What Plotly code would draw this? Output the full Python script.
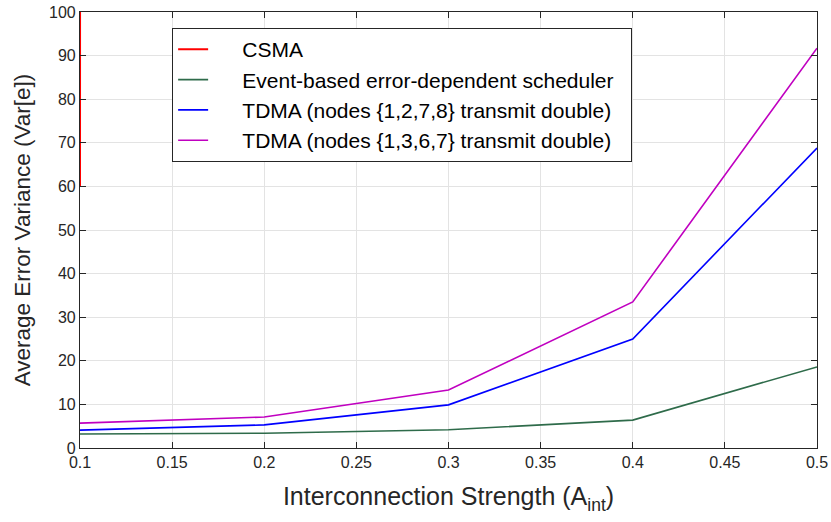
import plotly.graph_objects as go

x_vals = [0.1, 0.2, 0.3, 0.4, 0.5]
csma = [60.0, 52000.0, 140000.0, 310000.0, 650000.0]
event_based = [3.2, 3.4, 4.2, 6.4, 18.6]
tdma_1278 = [4.1, 5.3, 9.9, 25.0, 68.8]
tdma_1367 = [5.7, 7.1, 13.3, 33.5, 91.7]

series = [
    ("CSMA", csma, "#ff0000"),
    ("Event-based error-dependent scheduler", event_based, "#2e6b4a"),
    ("TDMA (nodes {1,2,7,8} transmit double)", tdma_1278, "#0000ff"),
    ("TDMA (nodes {1,3,6,7} transmit double)", tdma_1367, "#c000c0"),
]

NB = "\u00a0"
fig = go.Figure()
for name, vals, col in series:
    fig.add_trace(go.Scatter(x=x_vals, y=vals, mode="lines",
                             name=NB * 5 + name + NB * 2,
                             line=dict(color=col, width=2 if name == "CSMA" else 1.6)))

axis_common = dict(
    showgrid=True, gridcolor="#e3e3e3", gridwidth=1,
    showline=True, linecolor="#262626", linewidth=1.2, mirror="ticks",
    ticks="inside", ticklen=6, tickcolor="#262626",
    tickfont=dict(family="Liberation Sans, Arial, sans-serif", size=16, color="#262626"),
    zeroline=False, automargin=False,
)

fig.update_layout(
    width=831, height=522,
    margin=dict(l=80, r=14, t=12, b=74),
    paper_bgcolor="white", plot_bgcolor="white",
    font=dict(family="Liberation Sans, Arial, sans-serif", color="#262626"),
    xaxis=dict(range=[0.1, 0.5], dtick=0.05, tick0=0.1,
               title=dict(text="Interconnection Strength (A<sub>int</sub>)",
                          font=dict(size=25, color="#262626"), standoff=17),
               **axis_common),
    yaxis=dict(range=[0, 100], dtick=10,
               title=dict(text="Average Error Variance (Var[e])",
                          font=dict(size=22.5, color="#262626"), standoff=12),
               **axis_common),
    legend=dict(x=0.125, y=0.963, xanchor="left", yanchor="top",
                bgcolor="white", bordercolor="#262626", borderwidth=1,
                font=dict(size=21, color="black"), tracegroupgap=0,
                itemwidth=30),
    showlegend=True,
)

fig.write_html("out.html")
